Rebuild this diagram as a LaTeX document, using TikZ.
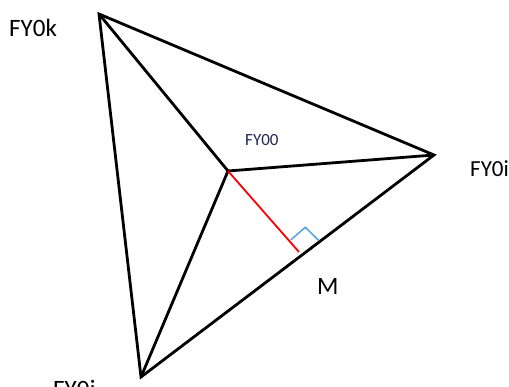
\documentclass[tikz,border=0pt]{standalone}
\usepackage{fontspec}
\setmainfont{Carlito}
\usetikzlibrary{calc}
\definecolor{navy}{RGB}{30,40,80}
\definecolor{markblue}{RGB}{80,160,230}
\begin{document}
\begin{tikzpicture}[x=1pt,y=-1pt,
  edge/.style={line width=2.8pt,line join=miter},
  lbl/.style={inner sep=0pt,anchor=base west,font=\fontsize{25}{30}\selectfont},
  lblsmall/.style={inner sep=0pt,anchor=base west,font=\fontsize{17}{20}\selectfont,text=navy}]
\useasboundingbox (0,0) rectangle (509,387);
\coordinate (k) at (99,14);
\coordinate (i) at (434,155);
\coordinate (j) at (141,377);
\coordinate (o) at (228,171);
\coordinate (m) at (299,252);
\coordinate (ra1) at (290.7,240);
\coordinate (ra2) at (305.3,227.3);
\coordinate (ra3) at (319,240.7);
\draw[edge] (k) -- (i) -- (j) -- cycle;
\draw[edge] (o) -- (k);
\draw[edge] (o) -- (i);
\draw[edge] (o) -- (j);
\draw[red,line width=1.8pt] (o) -- (m);
\draw[markblue,line width=1.5pt] (ra1) -- (ra2) -- (ra3);
\node[lbl] (lk) at (9,36.7) {FY0k};
\node[lblsmall] (lo) at (245,146) {FY00};
\node[lbl,font=\fontsize{23}{28}\selectfont] (li) at (470,176.7) {FY0i};
\node[lbl] (lm) at (317,295) {M};
\node[lbl] (lj) at (53,398) {FY0j};
\end{tikzpicture}
\end{document}
